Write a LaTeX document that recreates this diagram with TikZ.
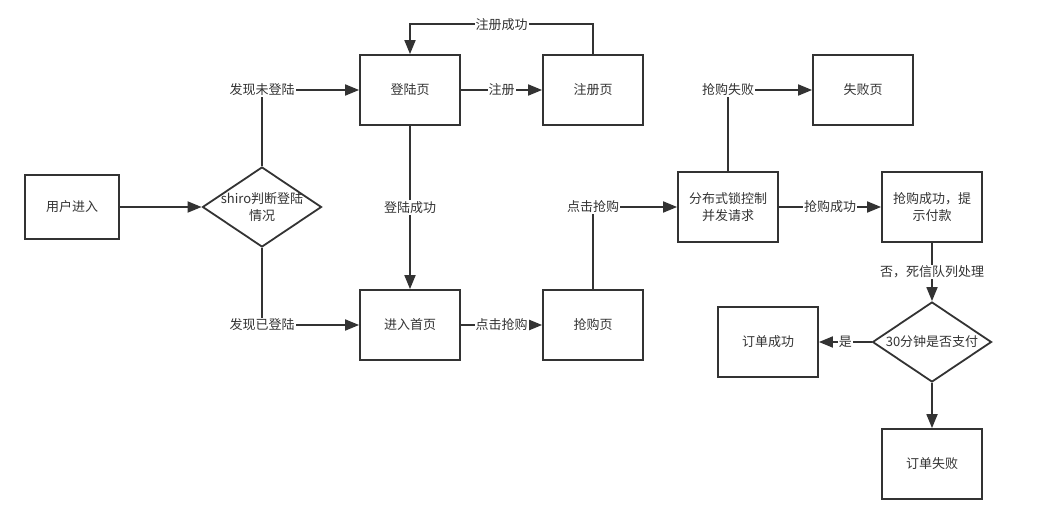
\documentclass[tikz,border=0pt]{standalone}
\usepackage{fontspec}
\setmainfont{Noto Sans CJK SC}
\usetikzlibrary{
  positioning,
  shapes.geometric,
  arrows.meta
}
\definecolor{ink}{HTML}{333333}
\tikzset{
  >={Triangle[length=14pt,width=11pt]},
  every node/.style={text=ink, font=\fontsize{13}{17}\selectfont},
  page/.style={draw=ink, line width=1.8pt, minimum width=100pt, minimum height=70pt, align=center, inner sep=2pt},
  decision/.style={diamond, draw=ink, line width=1.8pt, aspect=1.5, minimum width=119pt, minimum height=80pt, inner sep=0pt},
  flow/.style={->, draw=ink, line width=1.8pt},
  tag/.style={fill=white, inner sep=1pt}
}

\begin{document}
\begin{tikzpicture}[x=1pt, y=-1pt]
    \useasboundingbox (0,0) rectangle (1041,524);
    \node[page, minimum width=94pt, minimum height=64pt] (user) at (72,207) {用户进入};
    \node[decision, label={[align=center]center:shiro判断登陆\\情况}] (shiro) at (262,207) {};
    \node[page] (login) at (410,90) {登陆页};
    \node[page] (reg) at (593,90) {注册页};
    \node[page] (home) at (410,325) {进入首页};
    \node[page] (buy) at (593,325) {抢购页};
    \node[page] (lock) at (728,207) {分布式锁控制\\并发请求};
    \node[page] (fail) at (863,90) {失败页};
    \node[page] (ok) at (932,207) {抢购成功，提\\示付款};
    \node[decision, label=center:30分钟是否支付] (pay) at (932,342) {};
    \node[page] (done) at (768,342) {订单成功};
    \node[page] (lost) at (932,464) {订单失败};
    \draw (user) edge[flow] (shiro);
    \draw[flow] (shiro.north) |- node[tag]{发现未登陆} (login.west);
    \draw[flow] (shiro.south) |- node[tag]{发现已登陆} (home.west);
    \draw (login) edge[flow] node[tag]{注册} (reg);
    \draw[flow] (reg.north) -- ++(0,-30) -| node[tag, pos=0.25]{注册成功} (login.north);
    \draw (login) edge[flow] node[tag]{登陆成功} (home);
    \draw (home) edge[flow] node[tag]{点击抢购} (buy);
    \draw[flow] (buy.north) |- node[tag]{点击抢购} (lock.west);
    \draw[flow] (lock.north) |- node[tag]{抢购失败} (fail.west);
    \draw (lock) edge[flow] node[tag]{抢购成功} (ok);
    \draw (ok) edge[flow] node[tag]{否，死信队列处理} (pay);
    \draw (pay) edge[flow] node[tag]{是} (done);
    \draw (pay) edge[flow] (lost);
\end{tikzpicture}
\end{document}
